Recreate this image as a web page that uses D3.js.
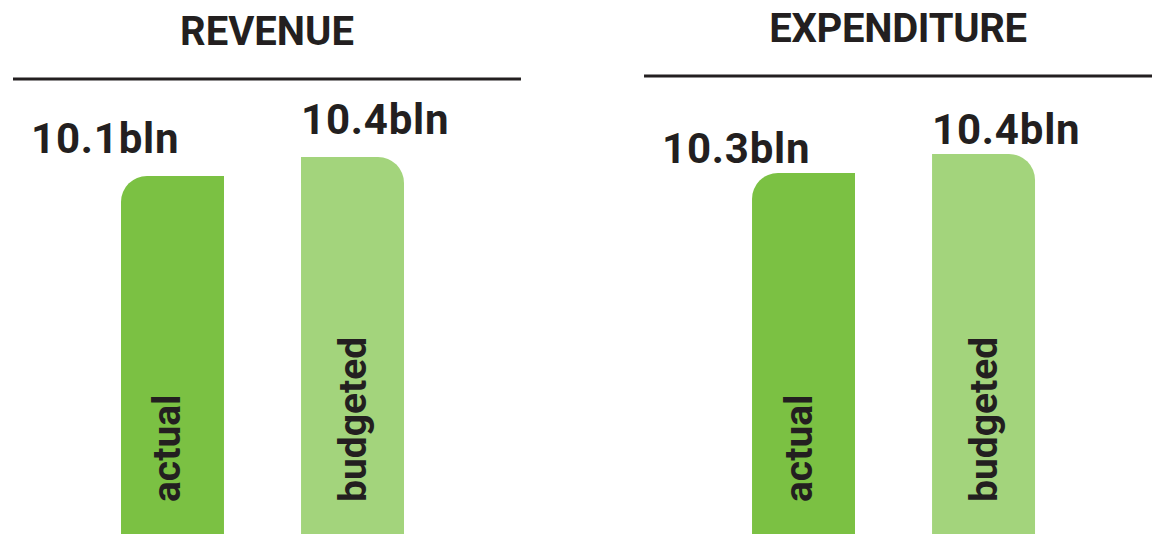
<!DOCTYPE html>
<html>
<head>
<meta charset="utf-8">
<script src="https://cdn.jsdelivr.net/npm/d3@7"></script>
<style>
  html, body { margin: 0; padding: 0; background: #fff; }
  svg { display: block; font-family: Roboto, "Open Sans", sans-serif; }
  .title { font-weight: 700; font-size: 40px; fill: #231f20; }
  .value { font-weight: 700; font-size: 42px; letter-spacing: 0.8px; fill: #231f20; }
  .series { font-weight: 700; font-size: 39px; fill: #231f20; }
</style>
</head>
<body>
<div id="chart"></div>
<script>
// panels + series (values in billions)
const panels = ["REVENUE", "EXPENDITURE"];
const series = ["actual", "budgeted"];
const actualValues = [10.1, 10.3];
const budgetedValues = [10.4, 10.4];

const width = 1160, height = 534;
const colors = { actual: "#7bc143", budgeted: "#a3d47c" };

// each panel uses its own vertical scale (infographic, not to zero)
const panelScale = {
    "REVENUE":     d3.scaleLinear().domain([10.1, 10.4]).range([176, 157]),
    "EXPENDITURE": d3.scaleLinear().domain([10.3, 10.4]).range([173, 154])
};
const titleY = { "REVENUE": 45, "EXPENDITURE": 42 };
const ruleY = { "REVENUE": 79, "EXPENDITURE": 76 };
const labelGap = { "REVENUE": 23, "EXPENDITURE": 10 };

const svg = d3.select("#chart").append("svg")
    .attr("width", width)
    .attr("height", height);

const xPanel = d3.scaleBand()
    .domain(panels)
    .range([13, 1152])
    .paddingInner(0.195);

const xSeries = d3.scaleBand()
    .domain(series)
    .range([108, 391])
    .paddingInner(0.428);

const fmt = d => d3.format(".1f")(d) + "bln";

// bar with only one rounded top corner
function barPath(x, y, w, h, side, r) {
    const p = d3.path();
    const b = y + h;
    if (side === "left") {
        p.moveTo(x, b);
        p.lineTo(x, y + r);
        p.arcTo(x, y, x + r, y, r);
        p.lineTo(x + w, y);
        p.lineTo(x + w, b);
    } else {
        p.moveTo(x, b);
        p.lineTo(x, y);
        p.lineTo(x + w - r, y);
        p.arcTo(x + w, y, x + w, y + r, r);
        p.lineTo(x + w, b);
    }
    p.closePath();
    return p.toString();
}

const data = panels.map((p, i) => ({
    panel: p,
    bars: [
        { key: "actual", value: actualValues[i] },
        { key: "budgeted", value: budgetedValues[i] }
    ]
}));

const g = svg.selectAll("g.panel")
    .data(data)
    .join("g")
    .attr("class", "panel")
    .attr("transform", d => `translate(${xPanel(d.panel)},0)`);

g.append("text")
    .attr("class", "title")
    .attr("x", xPanel.bandwidth() / 2)
    .attr("y", d => titleY[d.panel])
    .attr("text-anchor", "middle")
    .style("letter-spacing", d => d.panel === "EXPENDITURE" ? "-0.3px" : null)
    .text(d => d.panel);

g.append("line")
    .attr("x1", 0)
    .attr("x2", xPanel.bandwidth())
    .attr("y1", d => ruleY[d.panel])
    .attr("y2", d => ruleY[d.panel])
    .attr("stroke", "#231f20")
    .attr("stroke-width", 3);

const bars = g.selectAll("g.bar")
    .data(d => d.bars.map(b => ({ ...b, panel: d.panel })))
    .join("g")
    .attr("class", "bar");

bars.append("path")
    .attr("d", d => {
        const y = panelScale[d.panel](d.value);
        return barPath(xSeries(d.key), y, xSeries.bandwidth(), height + 10 - y,
            d.key === "actual" ? "left" : "right", 26);
    })
    .attr("fill", d => colors[d.key]);

// value labels above bars (actual one sits off to the left)
bars.append("text")
    .attr("class", "value")
    .attr("x", d => xSeries(d.key) + (d.key === "actual" ? -90 : 0))
    .attr("y", d => panelScale[d.panel](d.value) - labelGap[d.panel])
    .text(d => fmt(d.value));

// rotated series names inside bars
bars.append("text")
    .attr("class", "series")
    .attr("transform", d => {
        const cx = xSeries(d.key) + xSeries.bandwidth() / 2 + (d.key === "actual" ? 8 : 13);
        return `translate(${cx},502) rotate(-90)`;
    })
    .text(d => d.key);
</script>
</body>
</html>
